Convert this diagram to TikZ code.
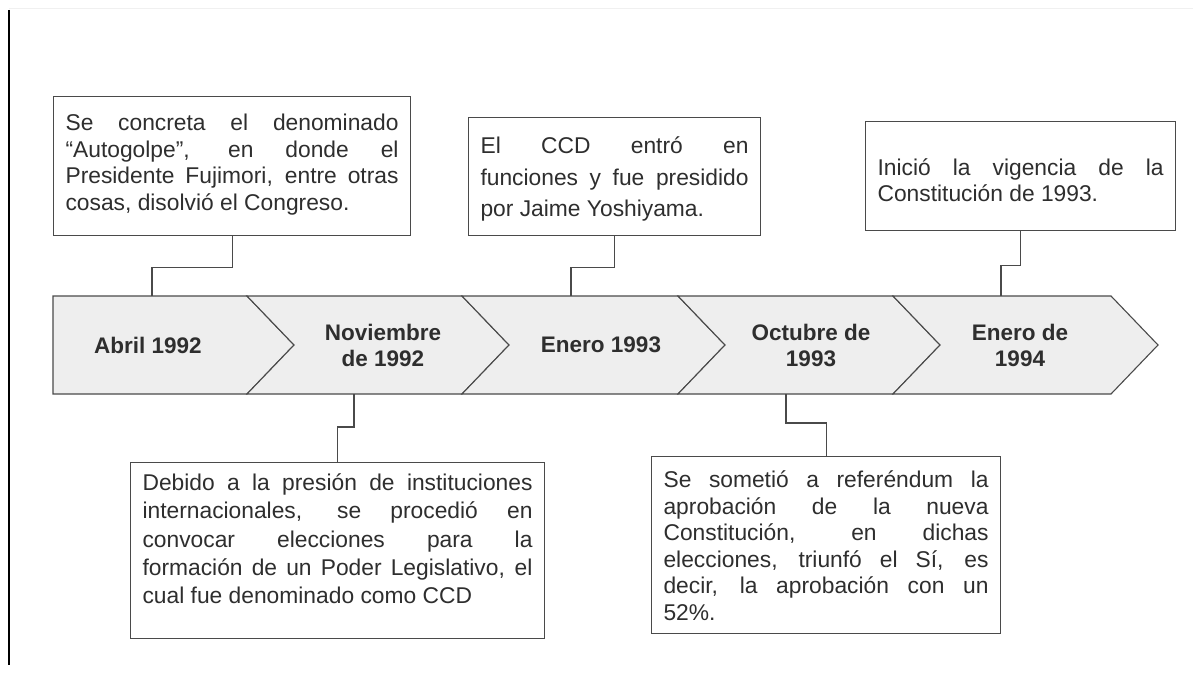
\documentclass[tikz,border=0pt]{standalone}
\usepackage{fontspec}
\setmainfont{Liberation Sans}
\usepackage{xcolor}
\usetikzlibrary{positioning}
\definecolor{BandFill}{HTML}{EEEEEE}
\definecolor{BandLine}{HTML}{4A4A4A}
\definecolor{NoteText}{HTML}{2E2E2E}
\definecolor{PageRule}{HTML}{F0F0F0}

\begin{document}
\begin{tikzpicture}[x=1pt,y=-1pt,
  note/.style={draw=BandLine,line width=1.1pt,fill=white,anchor=north west,
               align=justify,inner xsep=12pt,inner ysep=0pt,text=NoteText},
  datebox/.style={align=center,text=NoteText,
               font=\fontsize{22.5}{26}\selectfont\bfseries},
  link/.style={draw=BandLine,line width=1.1pt}]
  \useasboundingbox (0,0) rectangle (1193,677);
  % page edges
  \draw[PageRule,line width=1pt] (9,9) -- (1193,9);
  \draw[black,line width=1.3pt] (9,10) -- (9,665);

  % timeline band
  \draw[BandLine,fill=BandFill,line width=1.1pt]
    (53,296) -- (247,296) -- (294,345) -- (247,394) -- (53,394) -- cycle;
  \foreach \a/\b in {247/462,462/678,678/893,893/1111}
    \draw[BandLine,fill=BandFill,line width=1.1pt]
      (\a,296) -- (\b,296) -- (\b+47,345) -- (\b,394) -- (\a,394)
      -- (\a+47,345) -- cycle;

  \node[datebox] (abril) at (148,345) {Abril 1992};
  \node[datebox] (noviembre) at (383,345) {Noviembre\\de 1992};
  \node[datebox] (enero93) at (601,345) {Enero 1993};
  \node[datebox] (octubre) at (811,345) {Octubre de\\1993};
  \node[datebox] (enero94) at (1020,345) {Enero de\\1994};

  \coordinate (a1) at (152,296);
  \coordinate (a2) at (354,394);
  \coordinate (a3) at (571,296);
  \coordinate (a4) at (786,394);
  \coordinate (a5) at (1001,296);

  % notes
  \node[note,text width=333pt,text height=34pt,text depth=105pt,
        font=\fontsize{22.8}{26.5}\selectfont] (autogolpe) at (53,96)
    {Se concreta el denominado\linebreak “Autogolpe”, en donde el\linebreak
     Presidente Fujimori, entre otras\linebreak cosas, disolvió el Congreso.};
  \node[note,text width=268pt,text height=36pt,text depth=82pt,
        font=\fontsize{22.8}{31.5}\selectfont] (ccd) at (468,117)
    {El CCD entró en\linebreak funciones y fue presidido\linebreak
     por Jaime Yoshiyama.};
  \node[note,text width=286pt,text height=54pt,text depth=55pt,
        font=\fontsize{22.8}{25.5}\selectfont] (vigencia) at (865,121)
    {Inició la vigencia de la\linebreak Constitución de 1993.};
  \node[note,text width=390pt,text height=28pt,text depth=148pt,
        font=\fontsize{22.8}{28.3}\selectfont] (elecciones) at (130,462)
    {Debido a la presión de instituciones\linebreak internacionales, se procedió en\linebreak
     convocar elecciones para la\linebreak formación de un Poder Legislativo, el\linebreak
     cual fue denominado como CCD};
  \node[note,text width=325pt,text height=31pt,text depth=146pt,
        font=\fontsize{22.8}{26.6}\selectfont] (referendum) at (651,456)
    {Se sometió a referéndum la\linebreak aprobación de la nueva\linebreak
     Constitución, en dichas\linebreak elecciones, triunfó el Sí, es\linebreak
     decir, la aprobación con un\linebreak 52\%.};

  \draw[link] (autogolpe.south) -- ++(0,31) -| (a1);
  \draw[link] (ccd.south) -- ++(0,31) -| (a3);
  \draw[link] (vigencia.south) -- ++(0,34) -| (a5);
  \draw[link] (a2) -- ++(0,33) -| (elecciones.north);
  \draw[link] (a4) -- ++(0,29) -| (referendum.north);
\end{tikzpicture}
\end{document}
